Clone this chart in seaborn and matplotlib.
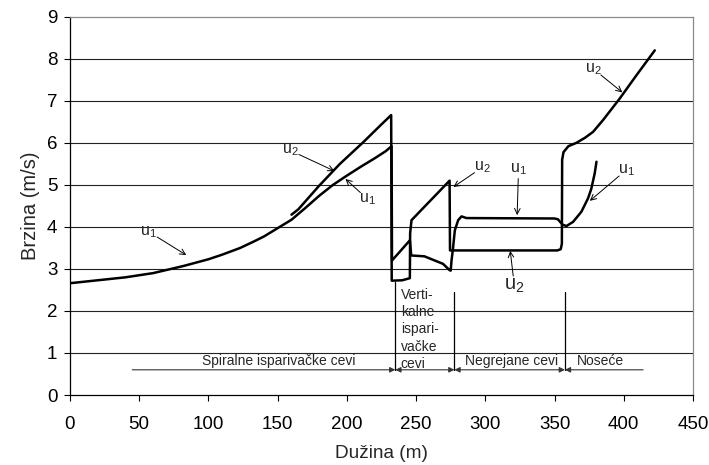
import matplotlib
matplotlib.use("Agg")
import matplotlib.pyplot as plt
import seaborn as sns
import numpy as np

# ---- data ----
u1_x = [0, 20, 40, 60, 82, 100, 110, 123, 132, 140, 146, 152, 160, 170, 180, 190, 200, 210, 220, 228, 232.3,
        232.6, 245.5, 246.5, 256, 263.5, 269.5, 274.2, 275.0, 275.6, 276.5, 278, 280.4, 282.8,
        286.4, 350, 352.5, 354, 356, 358.6, 363.4, 369.4, 374.2, 376.5, 379, 380.3]
u1_y = [2.66, 2.73, 2.80, 2.90, 3.07, 3.23, 3.34, 3.50, 3.64, 3.77, 3.89, 4.01, 4.17, 4.45, 4.74, 5.00, 5.22, 5.43, 5.63, 5.80, 5.92,
        3.20, 3.68, 3.32, 3.30, 3.20, 3.12, 2.97, 2.96, 3.20, 3.44, 3.92, 4.16, 4.25,
        4.21, 4.20, 4.18, 4.12, 4.05, 4.02, 4.12, 4.36, 4.68, 4.90, 5.27, 5.55]

u2_x = [160, 165, 180, 195, 212, 225, 232.0, 232.4, 240, 245.5, 245.7, 246.7, 274.2, 274.5,
        300, 352, 354.5, 355.3, 355.5, 356.5, 360, 365.8, 372, 377.8, 385, 397, 409, 422.4]
u2_y = [4.29, 4.42, 4.98, 5.50, 6.02, 6.44, 6.66, 2.72, 2.73, 2.78, 3.85, 4.16, 5.10, 3.44,
        3.44, 3.44, 3.47, 3.60, 5.60, 5.78, 5.92, 6.00, 6.12, 6.26, 6.54, 7.05, 7.60, 8.20]

x_ticks = [0, 50, 100, 150, 200, 250, 300, 350, 400, 450]
y_ticks = [0, 1, 2, 3, 4, 5, 6, 7, 8, 9]
x_label = "Dužina (m)"
y_label = "Brzina (m/s)"

section_bounds = [45, 235, 277.7, 357.5, 414]
section_names = ["Spiralne isparivačke cevi", "Verti-\nkalne\nispari-\nvačke\ncevi",
                 "Negrejane cevi", "Noseće"]

# (label, text position, arrow tip, font size)
annotations = [
    ("$u_1$", (57, 3.88), (84, 3.33), 11.5),
    ("$u_2$", (159, 5.82), (191, 5.33), 11.5),
    ("$u_1$", (215, 4.66), (199, 5.14), 11.5),
    ("$u_2$", (298, 5.42), (277, 4.95), 11.5),
    ("$u_1$", (324, 5.38), (323, 4.28), 11.5),
    ("$u_2$", (321, 2.6), (318, 3.43), 14.5),
    ("$u_1$", (402, 5.36), (375.5, 4.62), 11.5),
    ("$u_2$", (378, 7.76), (399, 7.2), 11.5),
]

# ---- style ----
sns.set_theme(style="white")
plt.rcParams["font.family"] = ["Liberation Sans", "DejaVu Sans"]
plt.rcParams["mathtext.fontset"] = "custom"
plt.rcParams["mathtext.rm"] = "Liberation Sans"
plt.rcParams["mathtext.it"] = "Liberation Sans"
plt.rcParams["mathtext.default"] = "regular"

fig = plt.figure(figsize=(7.09, 4.65), dpi=100)
ax = fig.add_axes([0.0987, 0.1505, 0.8787, 0.8135])

# gridlines
for yv in y_ticks[1:-1]:
    ax.axhline(yv, color="#222222", lw=0.8, zorder=1)

sns.lineplot(x=u1_x, y=u1_y, sort=False, estimator=None, color="black", lw=1.8, ax=ax, zorder=3)
sns.lineplot(x=u2_x, y=u2_y, sort=False, estimator=None, color="black", lw=1.8, ax=ax, zorder=3)

ax.set_xlim(0, 450)
ax.set_ylim(0, 9)
ax.set_xticks(x_ticks)
ax.set_yticks(y_ticks)
ax.tick_params(axis="both", direction="out", length=4, width=0.8, colors="black", labelsize=13.5)
ax.tick_params(axis="x", pad=11)
ax.tick_params(axis="y", pad=5)
ax.xaxis.set_ticks_position("bottom")
ax.yaxis.set_ticks_position("left")
ax.set_xlabel(x_label, fontsize=13.7, labelpad=9)
ax.set_ylabel(y_label, fontsize=14.5, labelpad=5)

for side in ["left", "bottom"]:
    ax.spines[side].set_color("black")
    ax.spines[side].set_linewidth(0.9)
for side in ["top", "right"]:
    ax.spines[side].set_color("#8a8a8a")
    ax.spines[side].set_linewidth(0.9)

# section dividers
line_y = 0.6
tops = [None, 2.7, 2.45, 2.45, None]
for b, t in zip(section_bounds, tops):
    if t is not None:
        ax.plot([b, b], [line_y, t], color="black", lw=0.9, zorder=2)

n = len(section_bounds) - 1
for i in range(n):
    a, b = section_bounds[i], section_bounds[i + 1]
    if i == 0:
        style = "-|>"
    elif i == n - 1:
        style = "<|-"
    else:
        style = "<|-|>"
    ax.annotate("", xy=(b, line_y), xytext=(a, line_y),
                arrowprops=dict(arrowstyle=style, color="#333333", lw=0.8,
                                mutation_scale=8, shrinkA=0, shrinkB=0), zorder=2)

ax.text(151, 0.82, section_names[0], ha="center", va="center", fontsize=10)
ax.text(239, 1.56, section_names[1], ha="left", va="center", fontsize=10, linespacing=1.28)
ax.text(319, 0.82, section_names[2], ha="center", va="center", fontsize=10)
ax.text(383, 0.82, section_names[3], ha="center", va="center", fontsize=10)

for lab, txy, axy, fs in annotations:
    ax.annotate("", xy=axy, xytext=txy,
                arrowprops=dict(arrowstyle="->", color="black", lw=0.7,
                                shrinkA=7, shrinkB=0, mutation_scale=10), zorder=4)
    ax.text(txy[0], txy[1], lab, ha="center", va="center", fontsize=fs, zorder=5)

fig.savefig("out.png", dpi=100)
